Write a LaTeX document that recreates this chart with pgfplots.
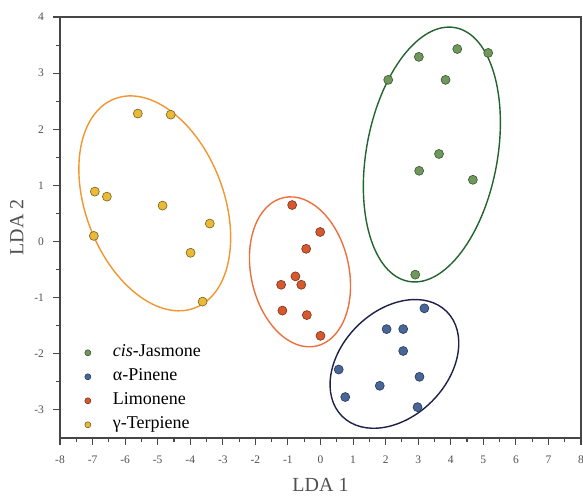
\documentclass[border=0pt]{standalone}
\usepackage{fontspec}
\setmainfont{Liberation Serif}
\usepackage{pgfplots}
\pgfplotsset{compat=1.18}
\definecolor{axisgray}{RGB}{70,70,70}
\definecolor{tickgray}{RGB}{80,80,80}
\definecolor{jasfill}{RGB}{112,152,92}
\definecolor{jasedge}{RGB}{55,85,50}
\definecolor{jasline}{RGB}{35,100,45}
\definecolor{pinfill}{RGB}{72,102,150}
\definecolor{pinedge}{RGB}{40,55,90}
\definecolor{pinline}{RGB}{30,32,72}
\definecolor{limfill}{RGB}{215,88,45}
\definecolor{limedge}{RGB}{120,50,30}
\definecolor{limline}{RGB}{236,112,62}
\definecolor{terfill}{RGB}{232,186,55}
\definecolor{teredge}{RGB}{120,95,35}
\definecolor{terline}{RGB}{242,150,48}
\begin{document}
\begin{tikzpicture}
\useasboundingbox (-60pt,-59pt) rectangle (523pt,438pt);
\begin{axis}[
  scale only axis, width=521pt, height=421pt,
  xmin=-8, xmax=8, ymin=-3.5, ymax=4,
  xtick={-8,-7,...,8}, ytick={-3,-2,...,4},
  minor x tick num=1, minor y tick num=1,
  tick pos=left, tick align=outside,
  major tick length=6.5pt, minor tick length=3.5pt,
  axis line style={draw=axisgray, line width=1.5pt},
  tick style={draw=axisgray, line width=1.1pt},
  /pgf/number format/assume math mode=true,
  ticklabel style={font=\fontsize{11.5}{13}\selectfont, text=tickgray},
  xticklabel style={yshift=-8pt},
  yticklabel style={xshift=-6pt},
  xlabel={LDA 1}, ylabel={LDA 2},
  label style={font=\fontsize{20}{24}\selectfont, text=tickgray},
  xlabel style={at={(axis description cs:0.5,-0.112)}, anchor=center},
  ylabel style={at={(axis description cs:-0.083,0.5)}, anchor=center, rotate=0},
  legend style={draw=none, fill=none, font=\fontsize{18}{21}\selectfont,
    at={(axis description cs:0.032,0.0)}, anchor=south west,
    row sep=2pt, legend cell align=left,
    nodes={inner sep=2pt, text height=13pt, text depth=5pt}},
  legend image code/.code={%
    \path[draw=none, fill=none] (0pt,-1pt) rectangle (31pt,1pt);
    \draw[#1] plot coordinates {(8pt,0pt)};},
  legend image post style={mark size=3pt},
]
% confidence ellipses
\draw[jasline, line width=1.4pt, rotate around={-10.4:(axis cs:3.42,1.55)}] (axis cs:3.42,1.55) ellipse [x radius=65.5pt, y radius=129pt];
\draw[pinline, line width=1.4pt, rotate around={-45:(axis cs:2.27,-2.18)}] (axis cs:2.27,-2.18) ellipse [x radius=53pt, y radius=74pt];
\draw[limline, line width=1.4pt, rotate around={12.3:(axis cs:-0.63,-0.54)}] (axis cs:-0.63,-0.54) ellipse [x radius=49pt, y radius=76pt];
\draw[terline, line width=1.4pt, rotate around={21:(axis cs:-5.09,0.68)}] (axis cs:-5.09,0.68) ellipse [x radius=69pt, y radius=112pt];

\addplot[only marks, mark=*, mark size=4.5pt, mark options={fill=jasfill, draw=jasedge, line width=0.6pt}] coordinates {
 (3.02,3.29) (4.20,3.43) (5.15,3.36) (2.08,2.88) (3.84,2.88)
 (3.64,1.56) (3.03,1.26) (4.68,1.10) (2.91,-0.59)
};
\addlegendentry{\textit{cis}-Jasmone}
\addplot[only marks, mark=*, mark size=4.5pt, mark options={fill=pinfill, draw=pinedge, line width=0.6pt}] coordinates {
 (3.19,-1.19) (2.03,-1.56) (2.54,-1.56) (2.54,-1.95) (0.56,-2.28)
 (3.04,-2.41) (1.82,-2.57) (0.76,-2.77) (2.98,-2.95)
};
\addlegendentry{α-Pinene}
\addplot[only marks, mark=*, mark size=4.5pt, mark options={fill=limfill, draw=limedge, line width=0.6pt}] coordinates {
 (-0.87,0.65) (-0.01,0.17) (-0.44,-0.13) (-0.77,-0.62) (-0.59,-0.77)
 (-0.42,-1.31) (0.0,-1.68) (-1.21,-0.77) (-1.17,-1.23)
};
\addlegendentry{Limonene}
\addplot[only marks, mark=*, mark size=4.5pt, mark options={fill=terfill, draw=teredge, line width=0.6pt}] coordinates {
 (-5.61,2.28) (-4.60,2.26) (-6.93,0.89) (-6.56,0.80) (-4.85,0.64)
 (-3.40,0.32) (-6.96,0.10) (-3.99,-0.20) (-3.62,-1.07)
};
\addlegendentry{γ-Terpiene}
\end{axis}
\end{tikzpicture}
\end{document}
